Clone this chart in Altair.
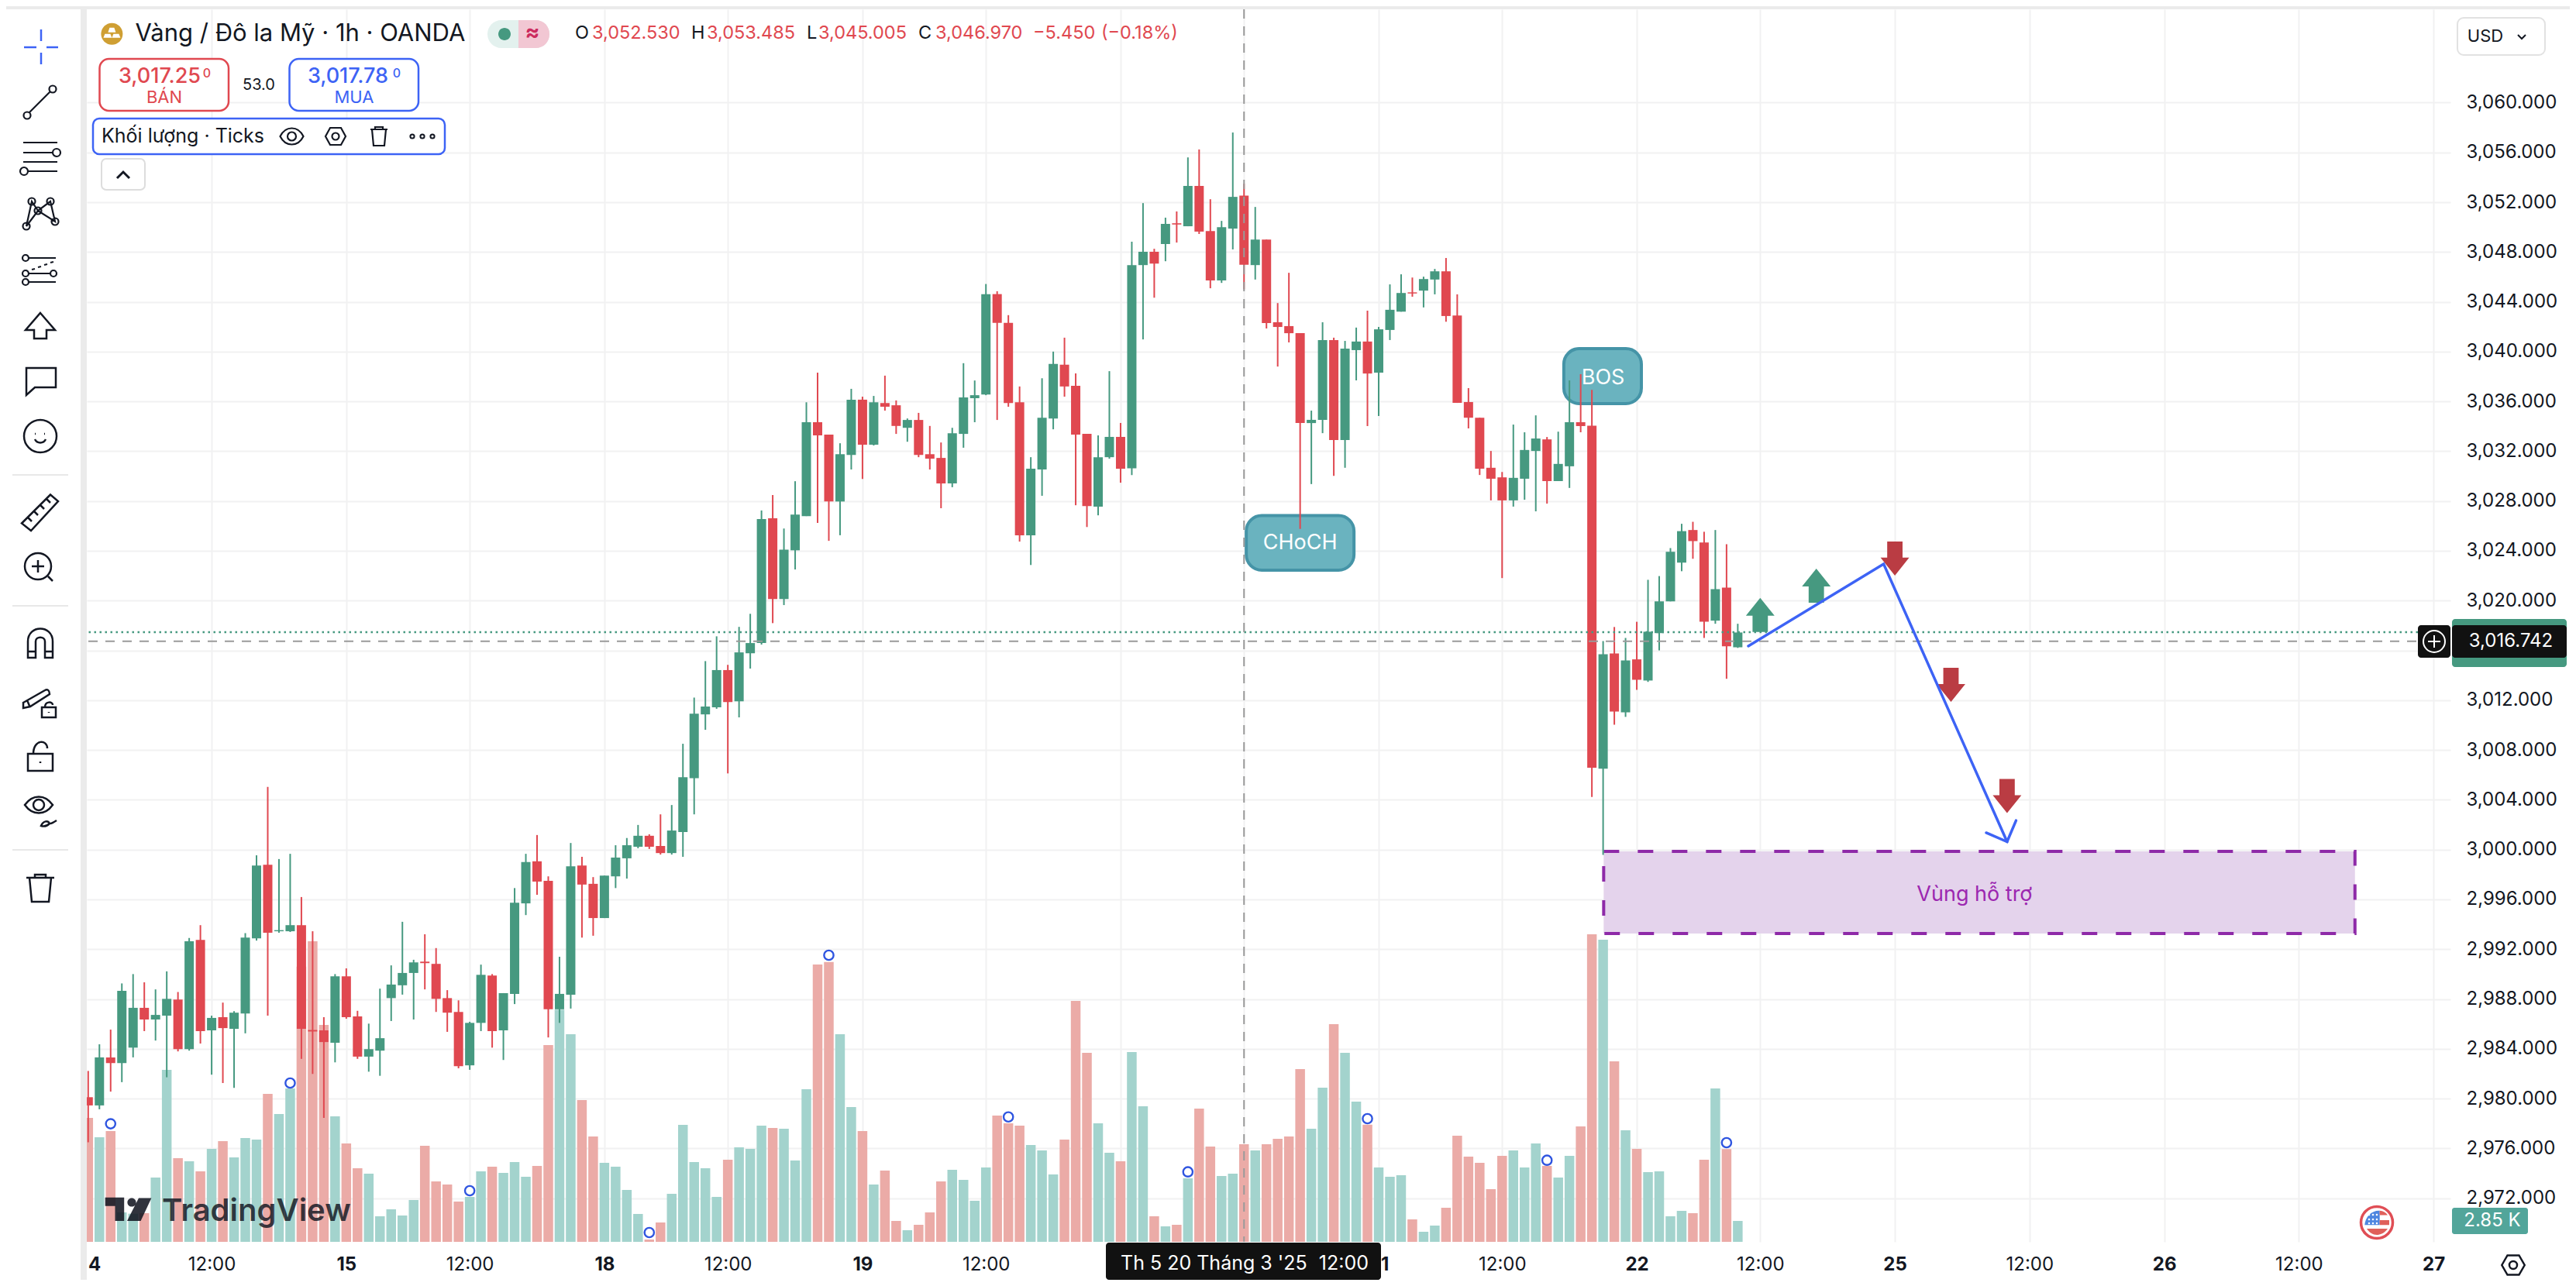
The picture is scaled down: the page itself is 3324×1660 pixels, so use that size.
import re
import altair as alt
import pandas as pd

# ---------- market data (1h bars) ----------
opens = [2980.11,2979.45,2983.31,2982.85,2984.09,2987.29,2986.35,2986.66,2987.95,2983.97,2992.75,2985.48,2986.54,2985.60,2986.84,2992.87,2998.78,2993.44,2993.44,2993.93,2985.51,2985.48,2984.48,2989.82,2986.60,2983.37,2983.85,2988.07,2989.10,2990.09,2991.00,2990.82,2988.07,2986.96,2982.67,2986.08,2989.88,2985.48,2988.41,2995.68,2999.06,2997.49,2987.17,2988.35,2998.72,2997.25,2994.50,2997.85,2999.30,3000.23,3001.11,3000.29,2999.72,3001.41,3005.73,3010.86,3011.43,3014.42,3011.91,3015.77,3016.59,3026.61,3020.12,3024.04,3026.79,3034.33,3033.33,3027.96,3031.70,3036.14,3032.52,3035.87,3035.69,3033.88,3034.51,3031.76,3031.46,3029.41,3033.39,3036.26,3036.56,3044.62,3042.31,3035.93,3025.25,3030.53,3034.63,3038.95,3037.26,3033.39,3027.54,3031.52,3033.15,3030.62,3046.95,3048.02,3048.64,3050.31,3050.07,3053.31,3049.69,3045.71,3049.88,3052.53,3046.95,3049.00,3042.36,3042.05,3041.48,3034.26,3034.52,3040.93,3032.90,3040.12,3040.81,3038.31,3041.74,3043.21,3044.76,3044.90,3045.79,3046.45,3042.90,3035.95,3034.69,3030.67,3029.90,3028.05,3029.79,3032.02,3032.95,3029.60,3030.79,3034.33,3034.05,3006.50,3015.75,3011.03,3015.28,3013.58,3017.39,3019.94,3023.05,3025.67,3024.67,3018.39,3021.05,3016.25]
highs = [2982.22,2984.36,2985.54,2989.25,2990.00,2989.34,2988.77,2990.22,2988.56,2992.90,2993.93,2986.66,2987.71,2987.02,2993.29,2999.54,3005.03,2999.24,2999.66,2996.19,2993.44,2986.54,2990.00,2990.46,2987.05,2986.02,2988.83,2990.70,2994.20,2991.15,2993.20,2992.09,2988.71,2987.89,2986.17,2990.76,2990.00,2988.47,2996.91,2999.66,3001.17,2997.85,2991.39,3000.53,2999.42,2997.79,2997.91,3000.35,3000.93,3001.98,3001.23,3002.83,3003.58,3008.50,3012.21,3015.14,3017.13,3014.84,3017.89,3018.94,3027.24,3028.48,3025.79,3029.59,3035.93,3038.31,3033.33,3032.64,3037.01,3036.38,3036.44,3038.07,3036.08,3034.63,3035.08,3034.03,3032.70,3033.88,3039.07,3037.68,3045.43,3044.85,3042.93,3037.20,3031.52,3037.86,3040.00,3041.12,3038.25,3033.39,3033.27,3038.43,3034.27,3048.83,3051.93,3048.26,3050.76,3051.26,3055.60,3056.24,3052.24,3050.50,3057.60,3053.485,3051.62,3049.00,3043.90,3046.33,3041.48,3035.26,3042.36,3041.12,3040.86,3041.93,3043.29,3041.98,3045.40,3046.21,3045.95,3046.02,3046.64,3047.52,3044.60,3037.07,3034.69,3032.02,3030.33,3034.14,3033.52,3034.88,3033.14,3033.57,3037.69,3038.19,3036.92,3016.75,3017.88,3017.00,3018.30,3021.67,3021.97,3024.22,3026.17,3026.33,3025.53,3025.67,3024.53,3018.14]
lows = [2976.49,2979.14,2980.56,2981.32,2983.31,2985.42,2984.66,2981.71,2983.79,2983.85,2984.42,2981.92,2981.25,2980.86,2985.24,2992.69,2986.66,2993.32,2993.38,2983.19,2981.98,2978.45,2982.91,2986.41,2983.19,2982.16,2981.83,2986.23,2988.35,2986.35,2988.77,2986.96,2985.36,2982.43,2982.31,2985.42,2984.09,2983.10,2987.59,2994.74,2996.37,2984.91,2986.08,2987.23,2992.93,2993.08,2994.50,2996.91,2997.67,3000.11,3000.05,2999.60,2999.60,2999.42,3002.83,3009.62,3011.31,3006.12,3010.62,3014.54,3016.47,3018.19,3019.64,3022.50,3026.79,3026.24,3024.80,3025.25,3030.53,3029.77,3032.46,3035.26,3033.39,3032.76,3031.52,3030.53,3027.42,3029.11,3032.28,3034.33,3036.50,3034.51,3035.57,3024.74,3022.86,3028.42,3033.76,3036.38,3027.66,3025.91,3026.85,3031.40,3029.47,3030.09,3040.98,3044.33,3047.26,3048.76,3050.07,3049.45,3045.09,3045.52,3048.21,3045.005,3045.79,3041.86,3038.80,3040.74,3025.76,3029.36,3033.45,3030.02,3030.67,3037.69,3034.02,3034.83,3040.93,3043.21,3044.41,3043.55,3044.60,3042.40,3035.88,3033.83,3030.09,3028.05,3021.81,3027.55,3028.10,3027.17,3027.79,3029.60,3029.05,3033.52,3004.22,2999.58,3010.03,3010.66,3012.83,3013.47,3016.00,3019.94,3022.36,3023.36,3017.00,3018.14,3013.72,3016.20]
closes = [2979.45,2983.31,2982.85,2988.65,2987.29,2986.35,2986.72,2988.01,2983.97,2992.63,2985.42,2986.48,2985.66,2986.90,2992.93,2998.72,2993.32,2993.53,2993.93,2985.60,2985.39,2984.54,2989.82,2986.54,2983.37,2983.97,2984.85,2989.16,2990.09,2990.94,2990.88,2988.01,2986.90,2982.61,2986.08,2989.94,2985.42,2988.47,2995.74,2999.00,2997.43,2987.17,2988.41,2998.66,2997.19,2994.50,2997.91,2999.36,3000.35,3001.11,3000.23,2999.72,3001.53,3005.81,3010.92,3011.49,3014.42,3011.85,3015.84,3016.59,3026.55,3020.12,3024.10,3026.91,3034.33,3033.27,3027.96,3031.76,3036.14,3032.52,3035.93,3035.57,3034.03,3034.51,3031.70,3031.40,3029.41,3033.45,3036.32,3036.50,3044.62,3042.31,3035.87,3025.25,3030.59,3034.69,3039.01,3037.20,3033.33,3027.60,3031.52,3033.15,3030.59,3046.95,3048.02,3047.07,3050.26,3050.21,3053.31,3049.64,3045.71,3050.00,3052.43,3046.97,3049.00,3042.29,3041.98,3041.48,3034.26,3034.52,3040.93,3032.90,3040.24,3040.81,3038.24,3041.79,3043.36,3044.71,3044.67,3045.83,3046.45,3042.86,3035.88,3034.69,3030.60,3029.79,3028.05,3029.86,3032.10,3033.02,3029.60,3030.98,3034.33,3034.02,3006.58,3015.69,3011.08,3015.19,3013.64,3017.50,3019.94,3023.92,3025.58,3024.78,3018.30,3020.92,3016.33,3017.44]
volumes = [16896,14256,15101,4013,3837,3907,8765,23443,11405,10982,9610,12672,13728,11510,14150,13939,20170,17424,20909,37523,40973,29568,17107,13411,10032,9293,3485,4435,3590,5702,13094,8237,7814,5491,6125,9610,10243,9398,10877,8870,10349,26822,31645,28301,19325,14362,10771,10243,7075,3802,317,2640,6547,15946,10877,10032,6125,11194,12883,12672,15840,15523,15418,11088,20803,37805,38157,28301,18374,15101,7814,9715,2851,1584,2323,4013,8237,9821,8448,5597,10138,17213,16157,15840,13200,12461,9187,13939,32842,25766,16157,12144,10982,25872,18480,3485,2112,2323,8659,18163,12989,8976,9293,13306,12461,13306,14045,14362,23549,15418,21014,29674,25766,19114,15981,10138,8870,9082,3062,1373,2218,4646,14467,11616,10771,7181,11722,12461,10138,13411,10349,8765,11722,15734,41923,41184,24605,15206,12672,9504,9610,3485,4224,3907,11194,20909,12637,2850]

x_ticks = [11,23,34,46,57,69,80,92,103,115,126,138,149,161,173,185,197,209]
x_labels = ["12:00","15","12:00","18","12:00","19","12:00","20","12:00","21","12:00","22","12:00","25","12:00","26","12:00","27"]
y_ticks = list(range(2972, 3061, 4))

marker_idx = [2,18,34,50,66,82,98,114,130,146]
marker_vol = [16093,21648,6970,1267,39072,17033,9536,16790,11120,13517]

up_idx, up_price = [149,154], [3018.85,3021.2]
down_idx, down_price = [161,166,171], [3023.38,3013.23,3004.3]

path_idx = [147.94,160.0,171.0]
path_price = [3016.35,3022.94,3000.63]
head_idx = [169.14,171.0,171.8]
head_price = [3001.35,3000.63,3002.34]

cross_idx = 103
cross_price = 3016.742
last_price = 3017.47

GREEN, RED = "#469980", "#E04850"
VGREEN, VRED = "#A3D3CD", "#EBABA7"
BLUE = "#3D63F5"
INK = "#131722"
GRID = "#F1F1F2"
FONT = "Inter"

W, H = 3050, 1591
OX, OY = 112, 12      # where the plot area sits in the picture

xs = alt.Scale(domain=[-0.1243, 210.51], nice=False, zero=False, padding=0)
ps = alt.Scale(domain=[2968.492, 3067.497], nice=False, zero=False)
vs = alt.Scale(domain=[0, 168010], nice=False, zero=True)

df = pd.DataFrame({"i": range(len(opens)), "o": opens, "h": highs, "l": lows, "c": closes, "v": volumes})

lab_js = "[" + ",".join(f"'{s}'" for s in x_labels) + "]"
tick_js = "[" + ",".join(str(v) for v in x_ticks) + "]"
day_js = "[" + ",".join(str(t) for t, s in zip(x_ticks, x_labels) if s != "12:00") + "]"

x_axis = alt.Axis(values=x_ticks, labelExpr=f"{lab_js}[indexof({tick_js},datum.value)]",
                  labelFontWeight={"condition": {"test": f"indexof({day_js},datum.value)>=0", "value": 700}, "value": 400},
                  labelFont=FONT, labelFontSize=24, labelColor=INK, labelPadding=17, labelOverlap=False,
                  labelFlush=False, labelBound=False, grid=True, gridColor=GRID, gridWidth=2,
                  domain=False, ticks=False, title=None)
y_axis = alt.Axis(values=y_ticks, orient="right", labelExpr="datum.value==3016?'':format(datum.value,',.3f')",
                  labelFont=FONT, labelFontSize=24,
                  labelColor=INK, labelPadding=20, labelOverlap=False, labelFlush=False, labelBound=False,
                  grid=True, gridColor=GRID, gridWidth=2, domain=False, ticks=False, title=None)

def XF(field):
    return alt.X(f"{field}:Q", scale=xs, axis=x_axis, title=None)

X = XF("i")
is_down = "datum.c < datum.o"
layers = []

# ---------- volume pane ----------
layers.append(alt.Chart(df).mark_bar(size=12.5, clip=True).encode(
    x=X,
    y=alt.Y("v:Q", scale=vs, stack=None, axis=None),
    color=alt.condition(is_down, alt.value(VRED), alt.value(VGREEN))))

# ---------- chrome helpers ----------
one = alt.Data(values=[{"k": 0}])

def px(v): return v - OX
def py(v): return v - OY

def box(x1, y1, x2, y2, fill=None, stroke=None, sw=0, r=0, **kw):
    args = dict(cornerRadius=r, strokeWidth=sw, opacity=1)
    if fill: args["fill"] = fill
    else: args["fillOpacity"] = 0
    if stroke: args["stroke"] = stroke
    args.update(kw)
    return alt.Chart(one).mark_rect(**args).encode(
        x=alt.value(px(x1)), x2=alt.value(px(x2)), y=alt.value(py(y1)), y2=alt.value(py(y2)))

def txt(x, y, s, size=24, color=INK, weight=400, align="center", **kw):
    return alt.Chart(one).mark_text(text=s, font=FONT, fontSize=size, color=color, fontWeight=weight,
                                    align=align, baseline="middle", **kw).encode(
        x=alt.value(px(x)), y=alt.value(py(y)))

def circ(x, y, r):
    k = 0.5523 * r
    return (f"M{x-r},{y} C{x-r},{y-k} {x-k},{y-r} {x},{y-r} C{x+k},{y-r} {x+r},{y-k} {x+r},{y} "
            f"C{x+r},{y+k} {x+k},{y+r} {x},{y+r} C{x-k},{y+r} {x-r},{y+k} {x-r},{y} Z ")

def norm(d, k=30.0):
    return re.sub(r"-?\d+\.?\d*", lambda m: f"{float(m.group())/k:.4f}", d)

def icon(x, y, d, stroke=INK, fill=None, sw=2.5, **kw):
    args = dict(shape=norm(d), size=3600, opacity=1, strokeWidth=sw)
    if fill:
        args.update(filled=True, fill=fill)
    else:
        args.update(filled=False)
    if stroke: args["stroke"] = stroke
    args.update(kw)
    return alt.Chart(one).mark_point(**args).encode(x=alt.value(px(x)), y=alt.value(py(y)))

# ---------- watermark ----------
layers.append(icon(165, 1561,
    "M-29.3,-15.3 L-4.8,-15.3 L-4.8,15 L-16.5,15 L-16.5,-4.2 L-29.3,-4.2 Z "
    + circ(5, -9, 5.6) +
    "M14,-14.4 L30.4,-14.4 L16.6,15 L-1,15 Z", stroke=None, fill=INK, sw=0, fillOpacity=0.88))
layers.append(txt(209, 1564, "TradingView", size=40, weight=600, align="left", opacity=0.82))

# ---------- drawings under the candles ----------
zone = pd.DataFrame({"a": [135.05], "b": [202.0], "t": [2999.86], "u": [2993.26]})
layers.append(alt.Chart(zone).mark_rect(fill="#E4D3EC", stroke="#8E2AA8", strokeWidth=4, strokeDash=[20, 24], opacity=1).encode(
    x=XF("a"), x2="b:Q",
    y=alt.Y("t:Q", scale=ps, axis=None), y2="u:Q"))

notes = pd.DataFrame({"a": [131.5, 103.2], "b": [138.41, 112.8], "t": [3040.24, 3026.83], "u": [3035.82, 3022.44],
                      "m": [135.0, 108.0], "p": [3037.87, 3024.63], "s": ["BOS", "CHoCH"]})
layers.append(alt.Chart(notes).mark_rect(fill="#6AB3BF", stroke="#4594A7", strokeWidth=4, cornerRadius=20, opacity=1).encode(
    x=XF("a"), x2="b:Q",
    y=alt.Y("t:Q", scale=ps, axis=None), y2="u:Q"))

# ---------- candles ----------
col = alt.condition(is_down, alt.value(RED), alt.value(GREEN))
layers.append(alt.Chart(df).mark_rule(strokeWidth=2, clip=True).encode(
    x=X, y=alt.Y("l:Q", scale=ps, axis=y_axis), y2="h:Q", color=col))
layers.append(alt.Chart(df).mark_bar(size=12, clip=True).encode(
    x=X, y=alt.Y("o:Q", scale=ps, axis=None), y2="c:Q", color=col))

layers.append(alt.Chart(notes).mark_text(font=FONT, fontSize=27, color="white", baseline="middle", align="center").encode(
    x=XF("m"), y=alt.Y("p:Q", scale=ps, axis=None), text="s:N"))

# ---------- price lines and crosshair ----------
layers.append(alt.Chart(pd.DataFrame({"p": [last_price]})).mark_rule(color=GREEN, strokeWidth=2.5, strokeDash=[2.5, 4.5]).encode(
    y=alt.Y("p:Q", scale=ps, axis=None)))
layers.append(alt.Chart(pd.DataFrame({"p": [cross_price]})).mark_rule(color="#9A9A9A", strokeWidth=2, strokeDash=[12, 10]).encode(
    y=alt.Y("p:Q", scale=ps, axis=None)))
layers.append(alt.Chart(pd.DataFrame({"i": [cross_idx]})).mark_rule(color="#9A9A9A", strokeWidth=2, strokeDash=[12, 10]).encode(x=X))

# ---------- volume pivots ----------
layers.append(alt.Chart(pd.DataFrame({"i": marker_idx, "v": marker_vol})).mark_point(
    filled=True, fill="white", stroke="#2F55E0", strokeWidth=2.4, size=150, opacity=1).encode(
    x=X, y=alt.Y("v:Q", scale=vs, axis=None)))

# ---------- hand-drawn arrows ----------
UP = "M0,-30 L25.2,1.5 L13.5,1.5 L13.5,30 L-13.5,30 L-13.5,1.5 L-25.2,1.5 Z"
DOWN = "M0,30 L25.2,-1.5 L13.5,-1.5 L13.5,-30 L-13.5,-30 L-13.5,-1.5 L-25.2,-1.5 Z"
layers.append(alt.Chart(pd.DataFrame({"i": up_idx, "p": up_price})).mark_point(
    shape=norm(UP), size=1936, filled=True, fill=GREEN, opacity=1, strokeWidth=0).encode(
    x=X, y=alt.Y("p:Q", scale=ps, axis=None)))
layers.append(alt.Chart(pd.DataFrame({"i": down_idx, "p": down_price})).mark_point(
    shape=norm(DOWN), size=1936, filled=True, fill="#BA3C43", opacity=1, strokeWidth=0).encode(
    x=X, y=alt.Y("p:Q", scale=ps, axis=None)))
for xs_, ys_ in ((path_idx, path_price), (head_idx, head_price)):
    layers.append(alt.Chart(pd.DataFrame({"i": xs_, "p": ys_, "n": range(len(xs_))})).mark_line(
        color=BLUE, strokeWidth=3.5, strokeCap="round", strokeJoin="miter").encode(
        x=X, y=alt.Y("p:Q", scale=ps, axis=None), order="n:O"))

layers.append(alt.Chart(pd.DataFrame({"i": [168.1], "p": [2996.4], "s": ["Vùng hỗ trợ"]})).mark_text(
    font=FONT, fontSize=27, color="#9C27B0", baseline="middle", align="center").encode(
    x=X, y=alt.Y("p:Q", scale=ps, axis=None), text="s:N"))

# ---------- window chrome ----------
layers += [box(0, 12, 112, 1600, fill="white"),
           box(104, 12, 112, 1660, fill="#EBEBEB"),
           box(0, 8, 3324, 12, fill="#EBEBEB")]
for yy in (613, 782, 1097):
    layers.append(box(16, yy - 1, 88, yy + 1, fill="#E8E8E8"))

layers += [
    icon(53, 61, "M0,-23 L0,-8 M0,7 L0,22 M-22,0 L-6,0 M7,0 L22,0", stroke=BLUE),
    icon(52, 132, "M-14,13 L13,-14 " + circ(-17, 17, 4.5) + circ(16, -17, 4.5), sw=2.2),
    icon(52, 203, "M-22,-19 L22,-19 M-22,-6 L16,-6 M-22,6 L22,6 M-16,18 L22,18 " + circ(21, -6, 5) + circ(-21, 18, 5), sw=2.2),
    icon(53, 276, "M-19,16 L-12,-16 L-4,-4 L12,-16 L18,10 L-4,-4 L-19,16 " + circ(-19, 16, 4.5) + circ(-12, -16, 4.5) + circ(-4, -4, 4.5) + circ(12, -16, 4.5) + circ(18, 10, 4.5), sw=2.2),
    icon(53, 348, "M-16,-15 L19,-15 M-16,5 L12,5 M-16,16 L19,16 M-12,0 L-8,-1 M-4,-3 L0,-4 M4,-6 L8,-7 M12,-9 L16,-10 " + circ(-20, -15, 4) + circ(-20, 5, 4) + circ(16, 5, 4) + circ(-20, 16, 4), sw=2.2),
    icon(52, 420, "M0,-16 L19,6 L8,6 L8,17 L-8,17 L-8,6 L-19,6 Z"),
    icon(53, 490, "M-19,-15 L19,-15 L19,10 L-8,10 L-19,20 Z"),
    icon(52, 563, circ(0, 0, 21) + "M-7,-3 L-6,-3 M5,-3 L6,-3 M-7,4 C-4,10 4,10 7,4"),
    icon(52, 662, "M-24,13.5 L13,-23.5 L23,-15 L-12,23 Z M-16,6 L-11,11 M-8,-2 L-3,3 M0,-10 L5,-5 M8,-18 L13,-13"),
    icon(50, 731, circ(-1, 0, 17) + "M-9,0 L7,0 M-1,-8 L-1,8 M12,13 L18,19"),
    icon(52, 831, "M-16,18 L-16,-3 C-16,-25 16,-25 16,-3 L16,18 L6,18 L6,-3 C6,-10 -6,-10 -6,-3 L-6,18 Z M-16,10 L-6,10 M6,10 L16,10"),
    icon(51, 904, "M-21,3 L7,-13 C10,-15 13,-13 13,-8 L-12,8 L-21,10 Z M-16,0 L-13,7 M3,9 L21,9 L21,22 L3,22 Z M7,9 C7,1 17,1 17,6 M12,15 L12,16"),
    icon(52, 976, "M-16,-3 L16,-3 L16,19 L-16,19 Z M-9,-3 C-9,-22 9,-22 9,-10 M0,7 L0,9", sw=2.5),
    icon(50, 1046, "M-18,-7 C-8,-21 8,-21 18,-7 C8,7 -8,7 -18,-7 Z " + circ(0, -7, 7) + "M3,20 C6,13 12,13 14,17 C10,21 6,21 3,20 Z M15,17 C17,17 20,15 23,13"),
    icon(52, 1147, "M-18,-14 L18,-14 M-7,-14 L-7,-18 L7,-18 L7,-14 M-14,-14 L-11,17 L11,17 L14,-14"),
]

# title row
layers += [
    icon(144.4, 43.7, circ(0, 0, 14), stroke=None, fill="#CF9F33", sw=0),
    icon(144.4, 43.7, "M-3,-8 L3,-8 L5,-2 L-5,-2 Z M-9,0 L-2,0 L0,5 L-11,5 Z M2,0 L9,0 L11,5 L0,5 Z", stroke=None, fill="white", sw=0),
    txt(174.5, 44, "Vàng / Đô la Mỹ · 1h · OANDA", size=31, align="left"),
    box(629, 26, 709, 62, fill="#E3F1EE", r=18),
    icon(669, 44, "M0,-18 L22,-18 C33,-18 40,-10 40,0 C40,10 33,18 22,18 L0,18 Z", stroke=None, fill="#F2C7D3", sw=0),
    icon(651, 44, circ(0, 0, 8), stroke=None, fill=GREEN, sw=0),
    txt(687, 43, "≈", size=28, color="#CC2B5E", weight=700),
    txt(742, 43, "O", size=23.5, align="left"),
    txt(764, 43, "3,052.530", size=23.5, color=RED, align="left"),
    txt(892, 43, "H", size=23.5, align="left"),
    txt(912, 43, "3,053.485", size=23.5, color=RED, align="left"),
    txt(1041, 43, "L", size=23.5, align="left"),
    txt(1056, 43, "3,045.005", size=23.5, color=RED, align="left"),
    txt(1185, 43, "C", size=23.5, align="left"),
    txt(1207, 43, "3,046.970", size=23.5, color=RED, align="left"),
    txt(1333, 43, "−5.450", size=23.5, color=RED, align="left"),
    txt(1421, 43, "(−0.18%)", size=23.5, color=RED, align="left"),
]

# buy / sell
layers += [
    box(128.5, 76, 295, 143, fill="white", stroke=RED, sw=2.5, r=12),
    txt(206, 99, "3,017.25", size=27, color=RED, weight=500),
    txt(267, 95, "0", size=16, color=RED, weight=500),
    txt(212, 126, "BÁN", size=22, color=RED),
    txt(334, 110, "53.0", size=20),
    box(373.5, 76, 540, 143, fill="white", stroke=BLUE, sw=2.5, r=12),
    txt(449, 99, "3,017.78", size=27, color=BLUE, weight=500),
    txt(512, 95, "0", size=16, color=BLUE, weight=500),
    txt(457, 126, "MUA", size=22, color=BLUE),
    box(120, 153, 574, 199, fill="white", stroke=BLUE, sw=2.5, r=8),
    txt(131, 176, "Khối lượng · Ticks", size=25, align="left"),
    icon(376.5, 176, "M-15,0 C-8,-14 8,-14 15,0 C8,14 -8,14 -15,0 Z " + circ(0, 0, 5.5), sw=2.2),
    icon(433, 176, "M-13,0 L-7,-11 L7,-11 L13,0 L7,11 L-7,11 Z " + circ(0, 0, 4.5), sw=2.2),
    icon(489, 176, "M-11,-9 L11,-9 M-5,-9 L-5,-12 L5,-12 L5,-9 M-9,-9 L-7,12 L7,12 L9,-9", sw=2.2),
    icon(545, 176, circ(-13, 0, 2.6) + circ(0, 0, 2.6) + circ(13, 0, 2.6), sw=2),
    box(131, 205, 187, 245, fill="white", stroke="#DDDDDD", sw=2, r=6),
    icon(159, 226, "M-8,4 L0,-4 L8,4", sw=3),
]

# right-hand scale furniture
layers += [
    box(3171, 23, 3284, 71, fill="white", stroke="#E2E2E2", sw=2, r=8),
    txt(3207, 47, "USD", size=22),
    icon(3254, 47, "M-5,-2 L0,3 L5,-2", sw=2),
    box(3164, 799, 3312, 861, fill=GREEN, r=4),
    box(3164, 807, 3312, 849, fill="#111111", r=4),
    txt(3240, 827.5, "3,016.742", color="white"),
    box(3120, 807, 3162, 849, fill="#111111", r=4),
    icon(3141, 828, circ(0, 0, 14) + "M-8,0 L8,0 M0,-8 L0,8", stroke="white", sw=2),
    box(3164, 1559, 3262, 1593, fill="#52A59A", r=3),
    txt(3216, 1576, "2.85 K", color="white"),
    icon(3243, 1633, "M-14.7,0 L-7.5,-12.5 L7.5,-12.5 L14.7,0 L7.5,12.5 L-7.5,12.5 Z " + circ(0, 0, 5)),
    icon(3067, 1578, circ(0, 0, 20.5), stroke="#E04E55", fill="white", sw=3.5),
    icon(3067, 1578, "M3.7,-15.3 C-6,-16 -15,-8 -15.7,3.3 L3.7,3.3 Z", stroke=None, fill="#4E86E0", sw=0),
    icon(3067, 1578, "M3.7,-15.3 C8,-15 12,-13 14,-9.5 L3.7,-9.5 Z M3.7,-3 L16,-3 L16,3.3 L3.7,3.3 Z M-13,8 L14,8 C10,14 4,16 0,16 C-5,16 -10,13 -13,8 Z", stroke=None, fill="#E0605A", sw=0),
    icon(3067, 1578, "".join(circ(a, b, 1.3) for b in (-10, -4, 1) for a in (-10, -5, 0)), stroke=None, fill="white", sw=0),
    txt(122, 1633, "4", weight=700),
    box(1427, 1604, 1782, 1652, fill="#111111", r=4),
    txt(1446, 1631, "Th 5 20 Tháng 3 '25", size=25, color="white", align="left"),
    txt(1766, 1631, "12:00", size=25, color="white", align="right"),
]

chart = alt.layer(*layers).resolve_scale(y="independent").properties(
    width=W, height=H,
    padding={"left": OX - 8, "top": OY - 8, "right": 3316 - 3162, "bottom": 1652 - 1603},
    autosize=alt.AutoSizeParams(type="none"),
    background="white",
).configure_view(stroke=None)

chart.save("out.html", embed_options={"renderer": "svg", "actions": False})
